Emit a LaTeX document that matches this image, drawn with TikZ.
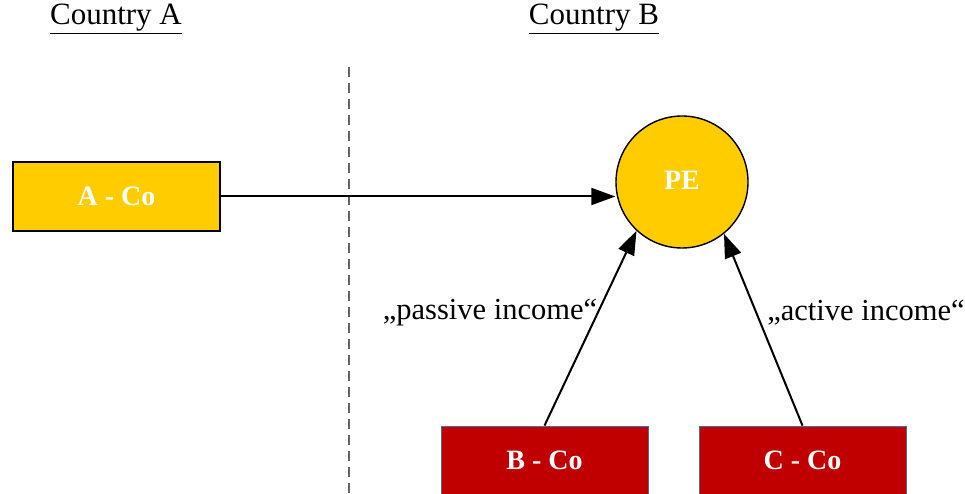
\documentclass[tikz,border=0pt]{standalone}
\usepackage{fontspec}
\setmainfont{Liberation Serif}
\usetikzlibrary{arrows.meta}
\definecolor{gold}{HTML}{FFCC00}
\definecolor{darkred}{HTML}{C00000}
\definecolor{steelframe}{HTML}{41719C}
\begin{document}
\begin{tikzpicture}[x=1pt,y=-1pt,
  heading/.style={font=\fontsize{31}{36}\selectfont, inner sep=0pt},
  cobox/.style={minimum width=207pt, minimum height=69pt, inner sep=0pt,
    text=white, font=\bfseries\fontsize{28}{32}\selectfont},
  homebox/.style={cobox, fill=gold, draw=black, line width=1.6pt},
  localbox/.style={cobox, fill=darkred, draw=steelframe, line width=0.8pt},
  pe/.style={circle, minimum size=132pt, inner sep=0pt, fill=gold, draw=black,
    line width=1.4pt, text=white, font=\bfseries\fontsize{28}{32}\selectfont},
  flow/.style={line width=2pt, -{Triangle[length=24pt,width=17pt]}},
  label/.style={font=\fontsize{30.5}{35}\selectfont, inner sep=0pt},
  border/.style={dashed, dash pattern=on 10pt off 6pt, draw=black!60, line width=1.4pt}]
  \useasboundingbox (0,0) rectangle (965,494);
  \clip (0,0) rectangle (965,494);

  % country headings
  \node[heading] (ha) at (116,19) {\underline{Country A}};
  \node[heading] (hb) at (594,19) {\underline{Country B}};

  % border between the two countries
  \coordinate (btop) at (349,67);
  \coordinate (bbot) at (349,494);
  \draw[border] (btop) -- (bbot);

  % entities
  \node[homebox] (aco) at (116.5,196.5) {A - Co};
  \node[pe] (pe) at (682,182) {\raisebox{3pt}{PE}};
  \node[localbox] (bco) at (544.5,460.5) {B - Co};
  \node[localbox] (cco) at (802.5,460.5) {C - Co};

  % income flows
  \draw[flow] (aco.east) -- (aco.east -| pe.west);
  \draw[flow] (bco.north) -- (pe.-133);
  \draw[flow] (cco.north) -- (pe.-51);

  % flow labels
  \node[label] (lp) at (490,313) {„passive income“};
  \node[label] (la) at (866,313) {„active income“};
\end{tikzpicture}
\end{document}
